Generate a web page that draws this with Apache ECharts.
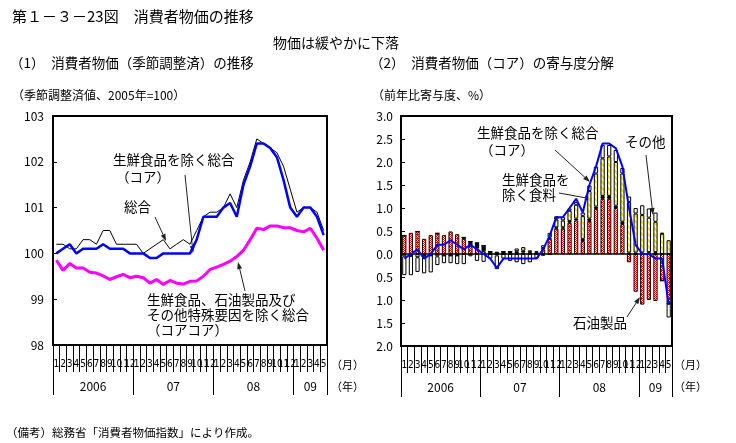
<!DOCTYPE html>
<html><head><meta charset="utf-8">
<script src="https://cdn.jsdelivr.net/npm/echarts@6/dist/echarts.min.js"></script>
<style>html,body{margin:0;padding:0;background:#fff}#c{width:736px;height:443px}</style>
</head><body><div id="c"></div><script>
// ---- data ----
const monthLabels = ['1','2','3','4','5','6','7','8','9','10','11','12',
  '1','2','3','4','5','6','7','8','9','10','11','12',
  '1','2','3','4','5','6','7','8','9','10','11','12',
  '1','2','3','4','5'];
const yearLabels = ['2006','07','08','09'];
const yearBounds = [0,12,24,36,41];
const yearCenters = [6,18,30,38.5];

// (1) CPI seasonally adjusted, 2005=100
const cpiTotal = [100.2,100.2,100.1,100.1,100.3,100.3,100.2,100.5,100.5,100.2,100.2,100.2,
  100.2,100.0,100.1,100.2,100.3,100.1,100.2,100.3,100.2,100.5,100.8,100.9,
  100.9,101.0,101.3,101.0,101.6,102.0,102.5,102.4,102.3,102.2,101.9,101.4,
  100.9,101.0,101.0,100.9,100.5];
const cpiCore = [100.0,100.1,100.2,100.0,100.1,100.1,100.1,100.2,100.1,100.1,100.1,100.0,
  100.0,100.0,99.9,99.9,100.0,100.0,100.0,100.0,100.0,100.3,100.8,100.8,
  100.8,101.0,101.1,100.8,101.5,101.9,102.4,102.4,102.3,102.1,101.6,101.0,
  100.8,101.0,101.0,100.8,100.4];
const cpiCoreCore = [99.85,99.63,99.78,99.68,99.68,99.59,99.57,99.51,99.43,99.49,99.54,99.47,
  99.50,99.47,99.35,99.43,99.32,99.41,99.35,99.33,99.39,99.40,99.50,99.65,
  99.70,99.76,99.83,99.93,100.07,100.30,100.55,100.52,100.60,100.60,100.56,100.56,
  100.50,100.47,100.55,100.33,100.07];

// (2) core CPI y/y and contributions
const coreYoY = [-0.1,0.0,0.1,-0.1,0.0,0.2,0.2,0.3,0.2,0.1,0.2,0.1,
  0.0,-0.1,-0.3,-0.1,-0.1,-0.1,-0.1,-0.1,-0.1,0.1,0.4,0.8,
  0.8,1.0,1.2,0.9,1.5,1.9,2.4,2.4,2.3,1.9,1.0,0.2,
  0.0,0.0,-0.1,-0.1,-1.1];
const contribPetro = [0.40,0.46,0.49,0.33,0.41,0.45,0.41,0.49,0.43,0.33,0.17,0.12,
  0.06,0,0,0,0,0.02,0.03,0,0,0.10,0.33,0.55,
  0.55,0.68,0.73,0.28,0.72,0.98,1.20,1.20,1.00,0.65,-0.18,-0.82,
  -1.10,-1.00,-1.02,-0.58,-1.08];
const contribSpecial = [0,-0.04,0,-0.04,-0.03,0,-0.03,-0.03,-0.03,0.03,0.10,0.12,
  0.12,0.05,0.05,0.05,0.05,0.04,0.04,0.04,0.04,0.03,0.03,0.03,
  0.03,0.04,0.04,0.05,0.05,0.05,0.06,0.06,0.05,0.05,0.03,0.03,
  0.03,0.04,0.04,0,0];
const contribFood = [-0.05,0,-0.07,0,0,-0.05,0,0,0,0,0,0,
  0,0,-0.03,0,0,0.06,0.08,0.04,0.02,0.06,0.10,0.17,
  0.15,0.22,0.30,0.50,0.60,0.72,0.82,0.86,0.95,1.05,1.10,0.85,
  0.82,0.75,0.66,0.44,0.30];
const contribOther = [-0.41,-0.42,-0.32,-0.38,-0.37,-0.19,-0.17,-0.17,-0.19,-0.22,-0.05,-0.15,
  -0.17,-0.10,-0.30,-0.10,-0.15,-0.18,-0.22,-0.18,-0.10,-0.04,-0.02,0.07,
  0.07,0.05,0.06,0.07,0.12,0.15,0.29,0.25,0.26,0.12,0.12,0.12,
  0.21,0.20,0.20,0.02,-0.30];

// ---- rendering ----
const FONT = "'Noto Sans CJK JP', sans-serif";
const NARROW = "'Liberation Sans Narrow','DejaVu Sans Condensed','Noto Sans CJK JP',sans-serif";

function pattern(kind){
  const c = document.createElement('canvas');
  if (kind === 'red') {
    c.width = 4; c.height = 4;
    const g = c.getContext('2d');
    g.fillStyle = '#fff'; g.fillRect(0,0,4,4);
    g.fillStyle = '#ff0000';
    for (let x=0;x<4;x++) for (let y=0;y<4;y++) if ((x+y)%2===0 || (x%4===1 && y%4===2)) g.fillRect(x,y,1,1);
  } else {
    c.width = 6; c.height = 6;
    const g = c.getContext('2d');
    g.fillStyle = '#fff'; g.fillRect(0,0,6,6);
    g.strokeStyle = '#f5e600'; g.lineWidth = 2.6;
    g.beginPath(); g.moveTo(-1,-1); g.lineTo(7,7); g.stroke();
    g.beginPath(); g.moveTo(-1,5); g.lineTo(1,7); g.stroke();
    g.beginPath(); g.moveTo(5,-1); g.lineTo(7,1); g.stroke();
  }
  return {image: c, repeat: 'repeat'};
}

function txt(t, x, y, size, align){
  return {type:'text', x:x, y:y, style:{text:t, font: size+'px '+FONT, fill:'#000',
    textAlign: align||'left', textVerticalAlign:'middle', align: align||'left', verticalAlign:'middle'}};
}
function arrow(x1,y1,x2,y2){
  const a = Math.atan2(y2-y1, x2-x1), L = 7, W = 2.5;
  const bx = x2 - L*Math.cos(a), by = y2 - L*Math.sin(a);
  const px = -Math.sin(a)*W, py = Math.cos(a)*W;
  return [
    {type:'line', shape:{x1:x1,y1:y1,x2:bx,y2:by}, style:{stroke:'#222', lineWidth:1}},
    {type:'polygon', shape:{points:[[x2,y2],[bx+px,by+py],[bx-px,by-py]]}, style:{fill:'#222'}}
  ];
}

function monthAxis(gi){
  return {type:'category', gridIndex:gi, data:monthLabels, boundaryGap:true, position:'bottom',
    axisLine:{show:true, onZero:false, lineStyle:{color:'#000', width:2}},
    axisTick:{show:true, interval:0, length:27, lineStyle:{color:'#000', width:1}},
    axisLabel:{interval:0, fontSize:10, margin:14, color:'#000', fontFamily:NARROW},
    splitLine:{show:false}};
}
function yearAxis(gi, len){
  return {type:'value', gridIndex:gi, min:0, max:41, position:'bottom',
    axisLine:{show:false, onZero:false}, splitLine:{show:false},
    axisTick:{show:true, customValues:yearBounds, length:len, lineStyle:{color:'#000', width:1}},
    axisLabel:{show:true, customValues:yearCenters, margin:35, fontSize:12, color:'#000', fontFamily:FONT,
      formatter:function(v){ const i = yearCenters.indexOf(v); return i>=0 ? yearLabels[i] : ''; }}};
}

const chart = echarts.init(document.getElementById('c'));
const barCommon = {type:'bar', xAxisIndex:2, yAxisIndex:1, stack:'c', barWidth:'64%',
  itemStyle:{borderColor:'#000', borderWidth:1}};

const graphics = [
  txt('第１－３－23図　消費者物価の推移', 12, 16, 15),
  txt('物価は緩やかに下落', 273, 43, 14),
  txt('（1）　消費者物価（季節調整済）の推移', 10, 63, 13.5),
  txt('（2）　消費者物価（コア）の寄与度分解', 370, 63, 13.5),
  txt('（季節調整済値、2005年=100）', 12, 95, 12),
  txt('（前年比寄与度、%）', 372, 95, 12),
  txt('（備考）総務省「消費者物価指数」により作成。', 6, 433, 11.5),
  txt('（月）', 331, 365, 11), txt('（年）', 331, 387, 11),
  txt('（月）', 674, 365, 11), txt('（年）', 674, 387, 11),
  // left annotations
  txt('生鮮食品を除く総合', 113, 160, 13.5),
  txt('（コア）', 116, 177, 13.5),
  txt('総合', 124, 207, 13.5),
  txt('生鮮食品、石油製品及び', 147, 300, 13.5),
  txt('その他特殊要因を除く総合', 147, 315, 13.5),
  txt('（コアコア）', 147, 330, 13.5),
  // right annotations
  txt('生鮮食品を除く総合', 477, 133, 13.5),
  txt('（コア）', 480, 150, 13.5),
  txt('生鮮食品を', 502, 180, 13.5),
  txt('除く食料', 502, 195, 13.5),
  txt('その他', 625, 142, 13.5),
  txt('石油製品', 573, 323, 13.5)
].concat(
  arrow(185,175,193,253),
  arrow(155,217,166,241),
  arrow(245,291,238,262),
  arrow(555,150,590,182),
  arrow(559,193,592,199),
  arrow(646,155,653,215),
  arrow(627,317,640,297)
);

chart.setOption({
  animation:false,
  backgroundColor:'#fff',
  textStyle:{fontFamily:FONT, color:'#000'},
  grid:[
    {left:53, top:116, width:274, height:229, show:true, borderColor:'#000', borderWidth:2, backgroundColor:'rgba(0,0,0,0)'},
    {left:401, top:116, width:271, height:230, show:true, borderColor:'#000', borderWidth:2, backgroundColor:'rgba(0,0,0,0)'}
  ],
  xAxis:[monthAxis(0), yearAxis(0,50), monthAxis(1), yearAxis(1,51)],
  yAxis:[
    {type:'value', gridIndex:0, min:98, max:103, interval:1,
      axisLine:{show:true, onZero:false, lineStyle:{color:'#000', width:2}},
      axisTick:{show:true, inside:true, length:4, lineStyle:{color:'#000'}},
      splitLine:{show:false},
      axisLabel:{fontSize:12, margin:9, color:'#000', fontFamily:FONT}},
    {type:'value', gridIndex:1, min:-2, max:3, interval:0.5,
      axisLine:{show:true, onZero:false, lineStyle:{color:'#000', width:2}},
      axisTick:{show:true, inside:true, length:4, lineStyle:{color:'#000'}},
      splitLine:{show:false},
      axisLabel:{fontSize:12, margin:8, color:'#000', fontFamily:FONT,
        formatter:function(v){ return Math.abs(v).toFixed(1); }}}
  ],
  series:[
    {name:'総合', type:'line', xAxisIndex:0, yAxisIndex:0, data:cpiTotal, showSymbol:false, symbol:'none',
      lineStyle:{color:'#000', width:1}, z:3},
    {name:'コア', type:'line', xAxisIndex:0, yAxisIndex:0, data:cpiCore, showSymbol:false, symbol:'none',
      lineStyle:{color:'#0000ff', width:2.5}, z:4},
    {name:'コアコア', type:'line', xAxisIndex:0, yAxisIndex:0, data:cpiCoreCore, showSymbol:false, symbol:'none',
      lineStyle:{color:'#ff00ff', width:3}, z:4},
    Object.assign({}, barCommon, {name:'石油製品', data:contribPetro,
      itemStyle:{color:pattern('red'), borderColor:'#000', borderWidth:1},
      markLine:{silent:true, symbol:'none', label:{show:false}, data:[{yAxis:0}],
        lineStyle:{color:'#000', width:1.5, type:'solid'}}}),
    Object.assign({}, barCommon, {name:'特殊要因', data:contribSpecial,
      itemStyle:{color:'#000', borderColor:'#000', borderWidth:1}}),
    Object.assign({}, barCommon, {name:'生鮮食品を除く食料', data:contribFood,
      itemStyle:{color:pattern('yellow'), borderColor:'#000', borderWidth:1}}),
    Object.assign({}, barCommon, {name:'その他', data:contribOther,
      itemStyle:{color:'#fff', borderColor:'#000', borderWidth:1}}),
    {name:'コア前年比', type:'line', xAxisIndex:2, yAxisIndex:1, data:coreYoY, showSymbol:false, symbol:'none',
      lineStyle:{color:'#0000ff', width:2}, z:5}
  ],
  graphic:{elements:graphics}
});
</script></body></html>
